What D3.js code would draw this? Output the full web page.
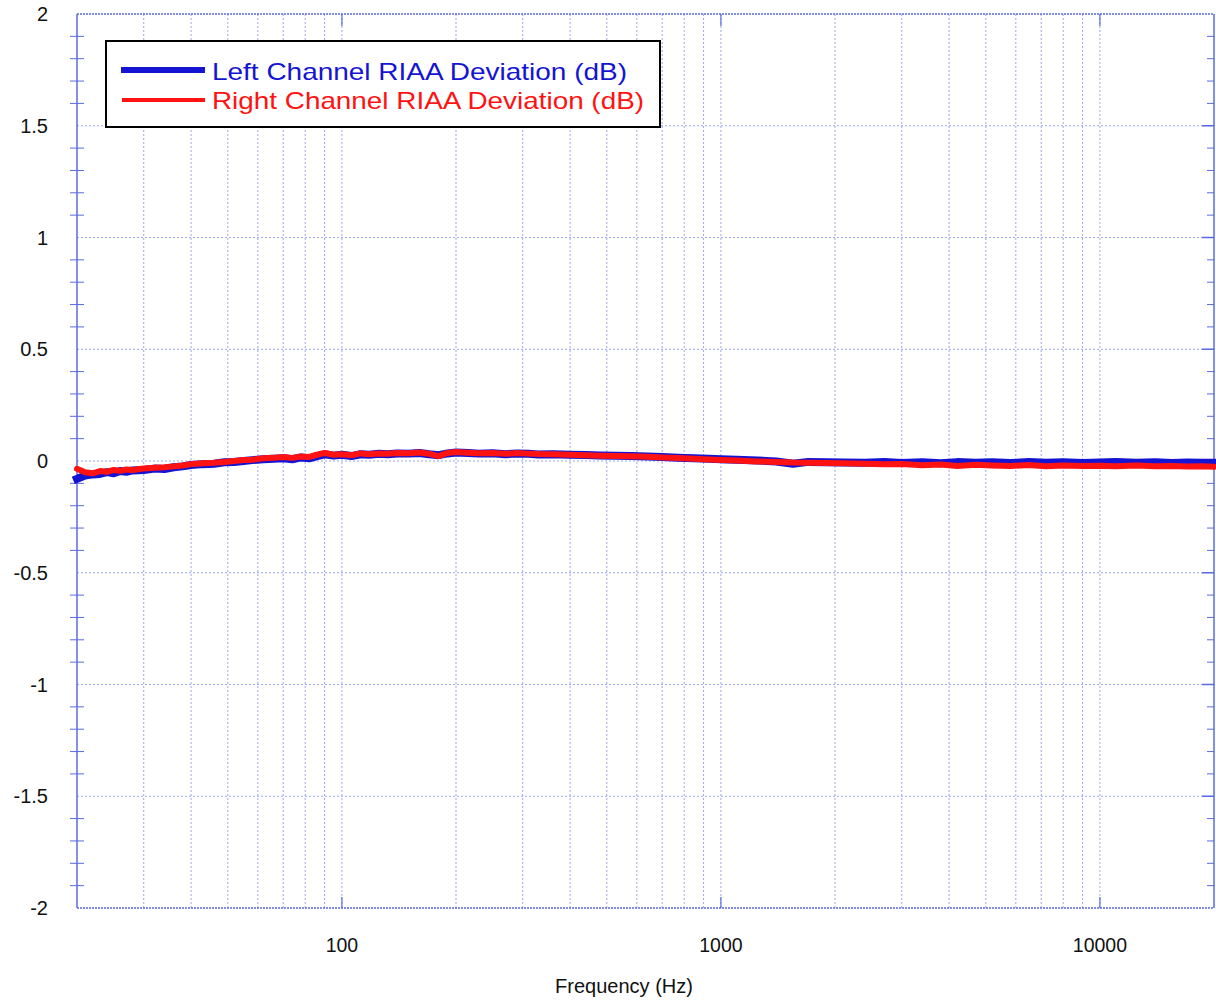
<!DOCTYPE html>
<html>
<head>
<meta charset="utf-8">
<script src="https://cdn.jsdelivr.net/npm/d3@7"></script>
<style>
  body { margin: 0; background: #fff; }
  svg { display: block; font-family: "Liberation Sans", Arial, sans-serif; }
</style>
</head>
<body>
<div id="chart"></div>
<script>
// Frequency points (Hz)
const freqs = [20, 21, 22, 23, 24, 25, 26, 27, 28,
  30, 32, 34, 36, 38, 40,
  43, 46, 49, 52, 55, 58,
  62, 66, 70, 74, 78, 82, 86, 90, 95,
  100, 106, 112, 118, 125, 132, 140,
  150, 160, 170, 180, 190, 200,
  215, 230, 250, 270, 290, 310, 330, 360,
  400, 440, 480, 530, 580, 640, 700, 770, 850, 930,
  1000, 1100, 1250, 1400, 1550, 1700, 1900,
  2100, 2400, 2700, 3000, 3400, 3800, 4200, 4700,
  5200, 5800, 6500, 7200, 8000, 9000,
  10000, 11000, 12500, 14000, 15500, 17000, 18500, 20000];

// Left channel RIAA deviation (dB)
const leftDev = [-0.08, -0.065, -0.06, -0.058, -0.05, -0.055, -0.045, -0.048, -0.042,
  -0.04, -0.034, -0.036, -0.028, -0.024, -0.018,
  -0.014, -0.012, -0.006, -0.004, 0.0, 0.004,
  0.008, 0.01, 0.012, 0.008, 0.016, 0.012, 0.022, 0.03, 0.024,
  0.028, 0.022, 0.03, 0.028, 0.032, 0.03, 0.034,
  0.033, 0.036, 0.03, 0.026, 0.034, 0.038,
  0.036, 0.033, 0.035, 0.03, 0.034, 0.032, 0.029, 0.03,
  0.028, 0.027, 0.025, 0.023, 0.022, 0.02, 0.018, 0.015, 0.012, 0.01,
  0.008, 0.006, 0.002, -0.002, -0.012, -0.004, -0.006,
  -0.007, -0.008, -0.004, -0.009, -0.006, -0.01, -0.005, -0.008,
  -0.006, -0.009, -0.005, -0.008, -0.006, -0.009,
  -0.007, -0.005, -0.008, -0.006, -0.009, -0.007, -0.008, -0.008];

// Right channel RIAA deviation (dB)
const rightDev = [-0.035, -0.05, -0.055, -0.045, -0.048, -0.04, -0.044, -0.038, -0.04,
  -0.034, -0.03, -0.028, -0.024, -0.02, -0.014,
  -0.01, -0.008, -0.004, 0.0, 0.004, 0.006,
  0.012, 0.014, 0.018, 0.014, 0.02, 0.018, 0.028, 0.036, 0.028,
  0.03, 0.026, 0.034, 0.03, 0.034, 0.032, 0.036,
  0.035, 0.038, 0.032, 0.022, 0.036, 0.04,
  0.037, 0.035, 0.036, 0.032, 0.036, 0.033, 0.031, 0.03,
  0.028, 0.026, 0.024, 0.022, 0.021, 0.019, 0.016, 0.013, 0.01, 0.007,
  0.005, 0.002, -0.002, -0.004, -0.007, -0.008, -0.009,
  -0.01, -0.012, -0.015, -0.013, -0.019, -0.016, -0.022, -0.017,
  -0.02, -0.022, -0.018, -0.023, -0.02, -0.022,
  -0.021, -0.023, -0.02, -0.024, -0.022, -0.025, -0.023, -0.026];

const xTickLabels = [100, 1000, 10000];
const yTickLabels = [2, 1.5, 1, 0.5, 0, -0.5, -1, -1.5, -2];
const legendLabels = ["Left Channel RIAA Deviation (dB)", "Right Channel RIAA Deviation (dB)"];

const W = 1216, H = 1005;
const margin = { top: 14, right: 2, bottom: 97, left: 77 };
const iw = W - margin.left - margin.right;
const ih = H - margin.top - margin.bottom;

const svg = d3.select("#chart").append("svg")
  .attr("width", W).attr("height", H);

const g = svg.append("g").attr("transform", `translate(${margin.left},${margin.top})`);

const x = d3.scaleLog().domain([20, 20000]).range([0, iw]);
const y = d3.scaleLinear().domain([-2, 2]).range([ih, 0]);

const gridColor = "#9aa6ee";
const axisColor = "#5a6ae0";
const blue = "#1414d2";
const red = "#ff1212";

// vertical grid: every 1-9 multiple of each decade
const vGrid = [];
[10, 100, 1000, 10000].forEach(dec => {
  for (let k = 1; k <= 9; k++) {
    const f = dec * k;
    if (f > 20 && f < 20000) vGrid.push(f);
  }
});
g.selectAll(".vgrid").data(vGrid).enter().append("line")
  .attr("x1", d => x(d)).attr("x2", d => x(d))
  .attr("y1", 0).attr("y2", ih)
  .attr("stroke", gridColor).attr("stroke-width", 1)
  .attr("stroke-dasharray", "2,2");

// horizontal grid at 0.5
g.selectAll(".hgrid").data(yTickLabels.filter(d => d > -2 && d < 2)).enter().append("line")
  .attr("x1", 0).attr("x2", iw)
  .attr("y1", d => y(d)).attr("y2", d => y(d))
  .attr("stroke", gridColor).attr("stroke-width", 1)
  .attr("stroke-dasharray", "2,2");

// minor y ticks every 0.1
const minorY = d3.range(-19, 20).map(i => i / 10).filter(d => Math.abs(Math.round(d * 2) - d * 2) > 1e-6);
g.selectAll(".ytickL").data(minorY).enter().append("line")
  .attr("x1", -7).attr("x2", 7)
  .attr("y1", d => y(d)).attr("y2", d => y(d))
  .attr("stroke", axisColor).attr("stroke-width", 1);
g.selectAll(".ytickR").data(minorY).enter().append("line")
  .attr("x1", iw - 7).attr("x2", iw)
  .attr("y1", d => y(d)).attr("y2", d => y(d))
  .attr("stroke", axisColor).attr("stroke-width", 1);
g.selectAll(".ytickRM").data(yTickLabels.filter(d => d > -2 && d < 2)).enter().append("line")
  .attr("x1", iw - 12).attr("x2", iw)
  .attr("y1", d => y(d)).attr("y2", d => y(d))
  .attr("stroke", axisColor).attr("stroke-width", 1.5);

// decade ticks at top and bottom
xTickLabels.forEach(f => {
  g.append("line").attr("x1", x(f)).attr("x2", x(f)).attr("y1", ih).attr("y2", ih - 11)
    .attr("stroke", axisColor).attr("stroke-width", 1.2);
  g.append("line").attr("x1", x(f)).attr("x2", x(f)).attr("y1", 0).attr("y2", 12)
    .attr("stroke", axisColor).attr("stroke-width", 1.2);
});

// frame
g.append("line").attr("x1", 0).attr("x2", 0).attr("y1", 0).attr("y2", ih)
  .attr("stroke", axisColor).attr("stroke-width", 1.5);
g.append("line").attr("x1", iw).attr("x2", iw).attr("y1", 0).attr("y2", ih)
  .attr("stroke", axisColor).attr("stroke-width", 1.5);
g.append("line").attr("x1", 0).attr("x2", iw).attr("y1", ih).attr("y2", ih)
  .attr("stroke", axisColor).attr("stroke-width", 1.5).attr("stroke-dasharray", "2,1");
g.append("line").attr("x1", 0).attr("x2", iw).attr("y1", 0).attr("y2", 0)
  .attr("stroke", axisColor).attr("stroke-width", 1.5).attr("stroke-dasharray", "2,1");

// tick labels
g.selectAll(".ylab").data(yTickLabels).enter().append("text")
  .attr("x", -29).attr("y", d => y(d)).attr("dy", "0.35em")
  .attr("text-anchor", "end").attr("font-size", "20px").attr("fill", "#111")
  .text(d => d);

g.selectAll(".xlab").data(xTickLabels).enter().append("text")
  .attr("x", d => x(d)).attr("y", ih + 44)
  .attr("text-anchor", "middle").attr("font-size", "19.5px").attr("fill", "#111")
  .text(d => d);

svg.append("text")
  .attr("x", 624).attr("y", 993)
  .attr("text-anchor", "middle").attr("font-size", "20px").attr("fill", "#111")
  .text("Frequency (Hz)");

// series
const line = d3.line().x(d => x(d[0])).y(d => y(d[1]));
const leftData = freqs.map((f, i) => [f, leftDev[i]]);
const rightData = freqs.map((f, i) => [f, rightDev[i]]);

g.append("path").datum(leftData).attr("d", line)
  .attr("fill", "none").attr("stroke", blue).attr("stroke-width", 8)
  .attr("stroke-linejoin", "round").attr("stroke-linecap", "square");
g.append("path").datum(rightData).attr("d", line)
  .attr("fill", "none").attr("stroke", red).attr("stroke-width", 6)
  .attr("stroke-linejoin", "round").attr("stroke-linecap", "round");

// legend
const lg = svg.append("g");
lg.append("rect").attr("x", 106).attr("y", 41).attr("width", 554).attr("height", 86)
  .attr("fill", "#fff").attr("stroke", "#000").attr("stroke-width", 2);
lg.append("line").attr("x1", 121).attr("x2", 205).attr("y1", 70).attr("y2", 70)
  .attr("stroke", blue).attr("stroke-width", 6);
lg.append("line").attr("x1", 122).attr("x2", 205).attr("y1", 100).attr("y2", 100)
  .attr("stroke", red).attr("stroke-width", 4);
lg.append("text").attr("x", 212).attr("y", 80).attr("font-size", "24px").attr("fill", blue)
  .attr("textLength", 415).attr("lengthAdjust", "spacingAndGlyphs")
  .text(legendLabels[0]);
lg.append("text").attr("x", 212).attr("y", 109).attr("font-size", "24px").attr("fill", red)
  .attr("textLength", 432).attr("lengthAdjust", "spacingAndGlyphs")
  .text(legendLabels[1]);
</script>
</body>
</html>
